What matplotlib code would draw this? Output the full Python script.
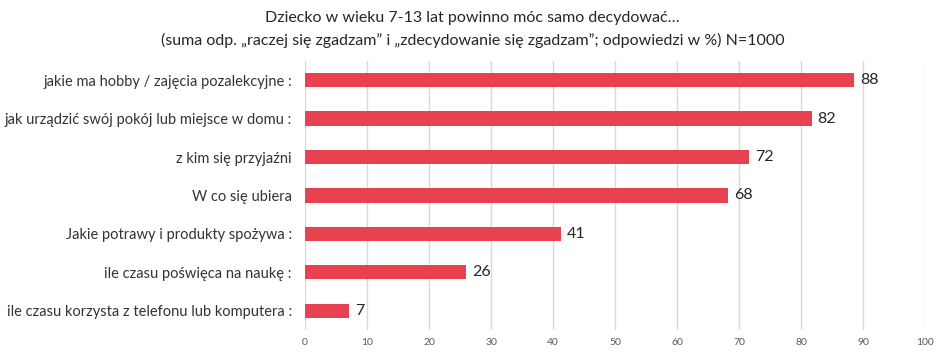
import matplotlib
matplotlib.use('Agg')
import matplotlib.pyplot as plt

# dane
kategorie = [
    'jakie ma hobby / zajęcia pozalekcyjne :',
    'jak urządzić swój pokój lub miejsce w domu :',
    'z kim się przyjaźni',
    'W co się ubiera',
    'Jakie potrawy i produkty spożywa :',
    'ile czasu poświęca na naukę :',
    'ile czasu korzysta z telefonu lub komputera :',
]
wartosci = [88.5, 81.7, 71.6, 68.2, 41.3, 26.0, 7.1]
ticki = [0, 10, 20, 30, 40, 50, 60, 70, 80, 90, 100]

plt.rcParams['font.family'] = ['Lato', 'DejaVu Sans']

fig = plt.figure(figsize=(9.45, 3.55), dpi=100)
ax = fig.add_axes([0.3228, 0.0704, 0.656, 0.758])

pos = list(range(len(kategorie)))[::-1]
ax.barh(pos, wartosci, height=0.37, color='#E8414F', zorder=3)
for p, v in zip(pos, wartosci):
    ax.text(v + 1.0, p, str(round(v)), va='center', ha='left', fontsize=11.5, color='#262626')

ax.set_xlim(0, 100)
ax.set_ylim(-0.5, len(kategorie) - 0.5)
ax.set_xticks(ticki)
ax.set_xticklabels([str(t) for t in ticki], fontsize=7.5, color='#595959')
ax.set_yticks(pos)
ax.set_yticklabels(kategorie, fontsize=10.5, color='#333333')
ax.tick_params(axis='both', length=0)
ax.tick_params(axis='y', pad=9.5)
ax.tick_params(axis='x', pad=6)
ax.grid(axis='x', color='#D9D9D9', linewidth=1, zorder=0)
for s in ax.spines.values():
    s.set_visible(False)

fig.text(0.5, 0.95, 'Dziecko w wieku 7-13 lat powinno móc samo decydować…',
         ha='center', va='center', fontsize=11.5, color='#262626')
fig.text(0.5, 0.887, '(suma odp. „raczej się zgadzam” i „zdecydowanie się zgadzam”; odpowiedzi w %) N=1000',
         ha='center', va='center', fontsize=11.5, color='#262626')

fig.savefig('out.png', dpi=100)
